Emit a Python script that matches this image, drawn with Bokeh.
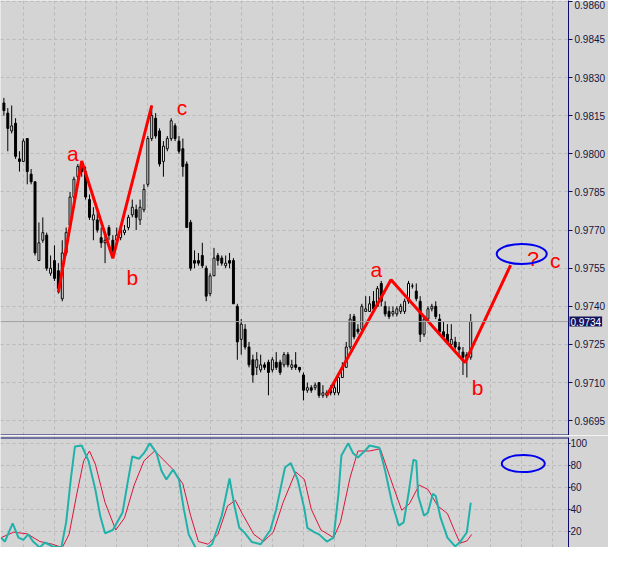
from bokeh.plotting import figure
from bokeh.models import (Range1d, FixedTicker, Span, Label, PrintfTickFormatter,
                          ColumnDataSource, GridBox)
from bokeh.core.properties import value
from bokeh.embed import file_html
from bokeh.resources import INLINE

# ---------------- data ----------------
opens = [0.9820, 0.9816, 0.9809, 0.9812, 0.9798, 0.9797, 0.9806, 0.9792, 0.9789, 0.9758,
         0.9766, 0.9768, 0.9753, 0.9758, 0.9754, 0.9743, 0.9761, 0.9772, 0.9783, 0.9791,
         0.9795, 0.9793, 0.9782, 0.9774, 0.9774, 0.9767, 0.9765, 0.9771, 0.9766, 0.9766,
         0.9767, 0.9769, 0.9771, 0.9776, 0.9778, 0.9774, 0.9778, 0.9788, 0.9806, 0.9814,
         0.9809, 0.9797, 0.9802, 0.9806, 0.9811, 0.9805, 0.9802, 0.9796, 0.9773, 0.9758,
         0.9758, 0.9760, 0.9755, 0.9745, 0.9752, 0.9760, 0.9759, 0.9756, 0.9758, 0.9758,
         0.9740, 0.9727, 0.9731, 0.9724, 0.9719, 0.9716, 0.9715, 0.9717, 0.9718, 0.9715,
         0.9718, 0.9718, 0.9717, 0.9721, 0.9716, 0.9717, 0.9716, 0.9713, 0.9707, 0.9708,
         0.9708, 0.9710, 0.9705, 0.9705, 0.9707, 0.9706, 0.9706, 0.9712, 0.9716, 0.9724,
         0.9736, 0.9731, 0.9731, 0.9738, 0.9738, 0.9742, 0.9740, 0.9749, 0.9740, 0.9738,
         0.9737, 0.9737, 0.9738, 0.9738, 0.9742, 0.9748, 0.9746, 0.9742, 0.9729, 0.9735,
         0.9739, 0.9740, 0.9735, 0.9730, 0.9729, 0.9725, 0.9726, 0.9724, 0.9722, 0.9721,
         0.9720]
highs = [0.9822, 0.9818, 0.9819, 0.9814, 0.9801, 0.9806, 0.9806, 0.9794, 0.9789, 0.9773,
         0.9775, 0.9769, 0.9760, 0.9764, 0.9757, 0.9766, 0.9771, 0.9785, 0.9791, 0.9796,
         0.9797, 0.9795, 0.9784, 0.9779, 0.9777, 0.9771, 0.9768, 0.9772, 0.9768, 0.9771,
         0.9772, 0.9772, 0.9776, 0.9782, 0.9780, 0.9782, 0.9788, 0.9807, 0.9819, 0.9816,
         0.9810, 0.9805, 0.9807, 0.9814, 0.9812, 0.9807, 0.9806, 0.9797, 0.9774, 0.9762,
         0.9761, 0.9765, 0.9756, 0.9753, 0.9763, 0.9761, 0.9760, 0.9760, 0.9761, 0.9759,
         0.9741, 0.9735, 0.9733, 0.9726, 0.9721, 0.9722, 0.9721, 0.9718, 0.9719, 0.9720,
         0.9722, 0.9719, 0.9722, 0.9722, 0.9719, 0.9722, 0.9716, 0.9714, 0.9710, 0.9709,
         0.9710, 0.9710, 0.9709, 0.9707, 0.9709, 0.9710, 0.9714, 0.9718, 0.9726, 0.9737,
         0.9737, 0.9733, 0.9741, 0.9744, 0.9744, 0.9746, 0.9748, 0.9750, 0.9742, 0.9740,
         0.9740, 0.9740, 0.9741, 0.9743, 0.9750, 0.9749, 0.9749, 0.9744, 0.9736, 0.9740,
         0.9741, 0.9742, 0.9737, 0.9734, 0.9733, 0.9733, 0.9728, 0.9726, 0.9724, 0.9722,
         0.9737]
lows = [0.9815, 0.9801, 0.9808, 0.9798, 0.9793, 0.9797, 0.9788, 0.9788, 0.9760, 0.9758,
        0.9765, 0.9754, 0.9752, 0.9750, 0.9745, 0.9742, 0.9760, 0.9771, 0.9782, 0.9790,
        0.9791, 0.9782, 0.9774, 0.9766, 0.9769, 0.9763, 0.9757, 0.9766, 0.9760, 0.9765,
        0.9766, 0.9768, 0.9770, 0.9775, 0.9770, 0.9772, 0.9777, 0.9787, 0.9805, 0.9806,
        0.9795, 0.9791, 0.9801, 0.9805, 0.9805, 0.9800, 0.9791, 0.9771, 0.9754, 0.9755,
        0.9756, 0.9755, 0.9742, 0.9744, 0.9752, 0.9756, 0.9756, 0.9755, 0.9755, 0.9741,
        0.9719, 0.9721, 0.9723, 0.9716, 0.9710, 0.9713, 0.9714, 0.9715, 0.9705, 0.9714,
        0.9715, 0.9713, 0.9716, 0.9716, 0.9715, 0.9715, 0.9714, 0.9703, 0.9706, 0.9706,
        0.9707, 0.9704, 0.9704, 0.9704, 0.9705, 0.9705, 0.9705, 0.9712, 0.9716, 0.9723,
        0.9727, 0.9729, 0.9730, 0.9738, 0.9738, 0.9738, 0.9740, 0.9740, 0.9736, 0.9735,
        0.9736, 0.9736, 0.9737, 0.9737, 0.9741, 0.9747, 0.9742, 0.9726, 0.9728, 0.9734,
        0.9738, 0.9735, 0.9729, 0.9727, 0.9725, 0.9724, 0.9723, 0.9721, 0.9713, 0.9712,
        0.9719]
closes = [0.9817, 0.9810, 0.9811, 0.9799, 0.9797, 0.9805, 0.9793, 0.9789, 0.9761, 0.9765,
          0.9769, 0.9755, 0.9755, 0.9751, 0.9747, 0.9761, 0.9769, 0.9783, 0.9790, 0.9795,
          0.9793, 0.9783, 0.9775, 0.9776, 0.9770, 0.9765, 0.9766, 0.9768, 0.9762, 0.9768,
          0.9770, 0.9770, 0.9775, 0.9779, 0.9775, 0.9779, 0.9786, 0.9806, 0.9815, 0.9807,
          0.9796, 0.9803, 0.9806, 0.9813, 0.9806, 0.9801, 0.9795, 0.9771, 0.9755, 0.9757,
          0.9757, 0.9756, 0.9744, 0.9752, 0.9759, 0.9758, 0.9757, 0.9757, 0.9757, 0.9741,
          0.9726, 0.9733, 0.9724, 0.9717, 0.9713, 0.9719, 0.9717, 0.9716, 0.9714, 0.9719,
          0.9716, 0.9714, 0.9721, 0.9717, 0.9717, 0.9716, 0.9715, 0.9707, 0.9708, 0.9707,
          0.9709, 0.9705, 0.9706, 0.9706, 0.9706, 0.9708, 0.9712, 0.9716, 0.9724, 0.9735,
          0.9728, 0.9730, 0.9740, 0.9739, 0.9741, 0.9739, 0.9747, 0.9742, 0.9737, 0.9736,
          0.9738, 0.9739, 0.9740, 0.9742, 0.9749, 0.9748, 0.9743, 0.9729, 0.9735, 0.9739,
          0.9740, 0.9736, 0.9730, 0.9728, 0.9726, 0.9727, 0.9724, 0.9723, 0.9720, 0.9719,
          0.9734]

price_ticks = [0.9695, 0.9710, 0.9725, 0.9740, 0.9755, 0.9770, 0.9785,
               0.9800, 0.9815, 0.9830, 0.9845, 0.9860]
stoch_ticks = [0, 20, 40, 60, 80, 100]

# hand-drawn wave annotations (bar index, price)
wave1_x = [14, 20, 28, 38]
wave1_y = [0.97455, 0.97972, 0.97589, 0.98190]
wave2_x = [83, 99.5, 118.5, 130.25]
wave2_y = [0.97049, 0.97505, 0.97179, 0.97562]

label_x = [17.75, 33, 45.75, 95.75, 121.75, 136, 141.75]
label_y = [0.98002, 0.97512, 0.98182, 0.97543, 0.97080, 0.97589, 0.97581]
label_text = ["a", "b", "c", "a", "b", "?", "c"]

ellipse_main_x = [133.1]
ellipse_main_y = [0.97606]
ellipse_stoch_x = [133.5]
ellipse_stoch_y = [81.5]

# stochastic oscillator (bar index, value)
k_x = [-0.75, 0.25, 2.25, 3.75, 5, 6.25, 7.5, 9.25, 10.5, 12.5, 14.75, 16, 17.25, 18.25, 20,
       21.75, 23.5, 24.75, 26, 28, 30.5, 31.75, 33, 34.75, 36, 37.5, 39.25, 40.5, 41.75,
       43.5, 45, 46.25, 47.5, 49.25, 51, 53.5, 56, 58, 59.25, 60.5, 61.75, 63.75, 66,
       68.5, 70, 72.25, 73.75, 75.5, 77.25, 78, 79.75, 81, 83, 84.75, 86, 86.75, 88.5,
       89.75, 91, 92.75, 94, 96.5, 98, 99.75, 101.5, 102.75, 104, 105.25, 106, 106.5,
       108, 109, 110.25, 111, 112.25, 114, 116, 117.25, 119, 120]
k_v = [14, 10.5, 27, 14, 12, 17, 10.5, 5, 9.6, 6, 5, 28, 69, 97, 98,
       84, 58, 34, 18, 21, 37, 63, 88, 86, 91, 100, 91, 75, 67,
       76, 67, 40, 17, 5, 2, 8, 34, 68, 43, 23, 19, 10, 8,
       21, 40, 78, 82, 67, 40, 23, 19, 17, 10.5, 14, 54, 89, 100,
       91, 87, 93, 98, 96, 75, 46, 25, 28, 54, 85, 84, 52,
       34, 37, 54, 52, 32, 14, 6, 10, 19, 46]
d_x = [-0.75, 2.5, 6, 9.25, 12.5, 15, 16.75, 18.75, 20.5, 22, 23.5, 26, 28.75, 31, 33.5,
       36, 38.75, 41, 43.5, 46, 48, 50, 52.5, 55, 57.5, 59.5, 61.25, 64.25, 66.75, 69.25,
       71.75, 75, 77.25, 79, 81.5, 84.75, 86.5, 89, 91, 94, 96.75, 99.25, 102.25, 104.25,
       106.75, 109, 111.5, 114, 116, 117.25, 119, 120.25]
d_v = [14, 19, 17.5, 10.5, 8, 5, 17, 54, 84, 93, 81, 46, 21, 32, 62,
       84, 93, 85, 76, 63, 34, 10.5, 8, 17, 43, 48, 36, 17, 10.5, 19,
       46, 74, 67, 40, 21, 14, 28, 69, 93, 93, 95, 69, 39, 45,
       62, 58, 43, 36, 19, 9, 11, 17]

# ---------------- styling ----------------
BG = "#D4D4D4"
GRID = "#B8B8B8"
NAVY = "#0C0C6A"
AXIS_TEXT = "#14143C"
FONT = "Liberation Sans"
W, H_MAIN, H_STOCH, AXIS_W = 608, 435, 112, 39

n = len(opens)
src = ColumnDataSource(dict(
    i=list(range(n)), o=opens, h=highs, l=lows, c=closes,
    top=[max(a, b) for a, b in zip(opens, closes)],
    bot=[min(a, b) for a, b in zip(opens, closes)],
    fill=["white" if c > o else "black" for o, c in zip(opens, closes)],
))

x_range = Range1d(-0.875, 145.125)
price_lo, price_hi = 0.96892, 0.98603
price_range = Range1d(price_lo, price_hi)

p = figure(width=W, height=H_MAIN, x_range=x_range, y_range=price_range,
           output_backend="svg", toolbar_location=None, x_axis_location=None,
           y_axis_location="right", min_border_left=0, min_border_right=AXIS_W,
           min_border_top=0, min_border_bottom=0, background_fill_color=BG,
           border_fill_color=BG, outline_line_color=None)

def style_axis(ax, ticks, fmt=None):
    ax.ticker = FixedTicker(ticks=ticks)
    if fmt:
        ax.formatter = PrintfTickFormatter(format=fmt)
    ax.axis_line_color = NAVY
    ax.major_tick_line_color = NAVY
    ax.major_tick_out = 4
    ax.major_tick_in = 0
    ax.minor_tick_line_color = None
    ax.major_label_text_font = FONT
    ax.major_label_text_font_size = "10px"
    ax.major_label_text_color = AXIS_TEXT
    ax.major_label_standoff = 2

style_axis(p.yaxis[0], price_ticks, "%.4f")
p.ygrid.ticker = FixedTicker(ticks=price_ticks)
p.xgrid.ticker = FixedTicker(ticks=list(range(5, 146, 8)))
for g in (p.xgrid[0], p.ygrid[0]):
    g.grid_line_color = GRID
    g.grid_line_dash = "3 3"

# bid line and panel separator
p.add_layout(Span(location=closes[-1], dimension="width", line_color="#A0A0A0", line_width=1))
p.add_layout(Span(location=price_lo, dimension="width", line_color=NAVY, line_width=2))

p.segment(x0="i", y0="l", x1="i", y1="h", source=src, line_color="black", line_width=1)
p.vbar(x="i", top="top", bottom="bot", width=0.5, fill_color="fill",
       line_color="black", line_width=1, source=src)

p.line(wave1_x, wave1_y, line_color="#FF0000", line_width=3)
p.line(wave2_x, wave2_y, line_color="#FF0000", line_width=3)

p.text(x=label_x, y=label_y, text=label_text, text_color="#FF0000",
       text_font=value(FONT), text_font_size="21px", text_align="center",
       text_baseline="alphabetic")

p.ellipse(x=ellipse_main_x, y=ellipse_main_y, width=50, height=20,
          width_units="screen", height_units="screen", fill_color=None,
          line_color="#0000EE", line_width=2)

# transparent overlay over the price panel; the bid tag sits in its right side panel
ov = figure(width=W, height=H_MAIN, x_range=Range1d(0, 1), y_range=price_range,
            output_backend="svg", toolbar_location=None, x_axis_location=None,
            y_axis_location=None, min_border_left=0, min_border_right=AXIS_W,
            min_border_top=0, min_border_bottom=0, background_fill_alpha=0,
            border_fill_alpha=0, outline_line_color=None)
ov.xgrid.visible = False
ov.ygrid.visible = False
ov.add_layout(Label(x=1, x_units="screen", y=closes[-1], text="%.4f" % closes[-1],
                    text_color="white", text_font=FONT, text_font_size="10px",
                    text_baseline="middle", background_fill_color="#15155A",
                    padding=1), "right")

# ---------------- stochastic panel ----------------
q = figure(width=W, height=H_STOCH, x_range=x_range, y_range=Range1d(5.05, 105.3),
           output_backend="svg", toolbar_location=None, x_axis_location=None,
           y_axis_location="right", min_border_left=0, min_border_right=AXIS_W,
           min_border_top=2, min_border_bottom=0, background_fill_color=BG,
           border_fill_color=BG, outline_line_color=None)
style_axis(q.yaxis[0], stoch_ticks)
q.yaxis[0].major_label_standoff = 0
q.yaxis[0].major_tick_out = 2
q.ygrid.ticker = FixedTicker(ticks=stoch_ticks)
q.xgrid.ticker = FixedTicker(ticks=list(range(5, 146, 8)))
for g in (q.xgrid[0], q.ygrid[0]):
    g.grid_line_color = GRID
    g.grid_line_dash = "3 3"
q.add_layout(Span(location=105.3, dimension="width", line_color=NAVY, line_width=2))

q.line(d_x, d_v, line_color="#DC143C", line_width=1)
q.line(k_x, k_v, line_color="#20B2AA", line_width=2)
q.ellipse(x=ellipse_stoch_x, y=ellipse_stoch_y, width=43, height=17,
          width_units="screen", height_units="screen", fill_color=None,
          line_color="#0000EE", line_width=2)

layout = GridBox(children=[(p, 0, 0), (ov, 0, 0), (q, 1, 0)], spacing=0)
open("out.html", "w").write(file_html(layout, INLINE))
